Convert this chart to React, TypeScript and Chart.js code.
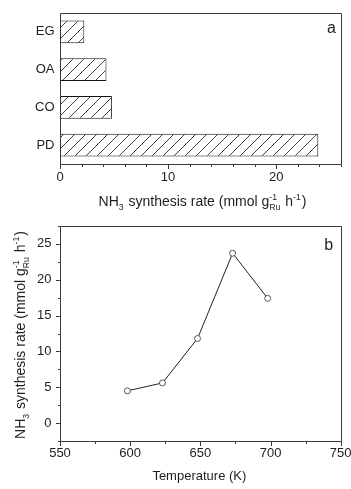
import React, { useEffect, useRef } from 'react';
import { Chart, registerables } from 'chart.js';
Chart.register(...registerables);

// ---- data: panel a ----
const catalysts = ['EG', 'OA', 'CO', 'PD'];
const catalystRates = [2.25, 4.3, 4.8, 23.9];

// ---- data: panel b ----
const temperatures = [598, 623, 648, 673, 698];
const temperatureRates = [4.5, 5.6, 11.8, 23.7, 17.4];

const FONT = '"Liberation Sans", Arial, Helvetica, sans-serif';
const TEXT = '#1e1e1e';
const AXIS = '#3a3a3a';

type Seg = { t?: string; kind?: 'sub' | 'sup' | 'stack'; sup?: string; sub?: string };

const rateTitle: Seg[] = [
  { t: 'NH' },
  { t: '3', kind: 'sub' },
  { t: ' synthesis rate (mmol g' },
  { kind: 'stack', sup: '-1', sub: 'Ru' },
  { t: ' h' },
  { t: '-1', kind: 'sup' },
  { t: ')' },
];
const tempTitle: Seg[] = [{ t: 'Temperature (K)' }];

function drawRich(ctx: CanvasRenderingContext2D, segs: Seg[], cx: number, cy: number, size: number, angle: number) {
  const small = size * 0.62;
  const fBig = `${size}px ${FONT}`;
  const fSmall = `${small}px ${FONT}`;
  const items = segs.map((s) => {
    if (s.kind === 'stack') {
      ctx.font = fSmall;
      return { ...s, w: Math.max(ctx.measureText(s.sup || '').width, ctx.measureText(s.sub || '').width) + 1 };
    }
    ctx.font = s.kind ? fSmall : fBig;
    return { ...s, w: ctx.measureText(s.t || '').width + (s.kind ? 1 : 0) };
  });
  const total = items.reduce((a, b) => a + b.w, 0);
  ctx.save();
  ctx.translate(cx, cy);
  ctx.rotate(angle);
  ctx.fillStyle = TEXT;
  ctx.textAlign = 'left';
  ctx.textBaseline = 'alphabetic';
  const base = size * 0.358;
  let x = -total / 2;
  for (const it of items) {
    if (it.kind === 'stack') {
      ctx.font = fSmall;
      ctx.fillText(it.sup || '', x, base - size * 0.45);
      ctx.fillText(it.sub || '', x, base + size * 0.3);
    } else if (it.kind === 'sub') {
      ctx.font = fSmall;
      ctx.fillText(it.t || '', x, base + size * 0.3);
    } else if (it.kind === 'sup') {
      ctx.font = fSmall;
      ctx.fillText(it.t || '', x, base - size * 0.45);
    } else {
      ctx.font = fBig;
      ctx.fillText(it.t || '', x, base);
    }
    x += it.w;
  }
  ctx.restore();
}

const decorPlugin = {
  id: 'decor',
  afterDraw(chart: any, _args: any, opts: any) {
    const ctx: CanvasRenderingContext2D = chart.ctx;
    const a = chart.chartArea;
    const L = Math.round(a.left) + 0.5;
    const R = Math.round(a.right) + 0.5;
    const T = Math.round(a.top) + 0.5;
    const B = Math.round(a.bottom) + 0.5;
    ctx.save();
    ctx.strokeStyle = AXIS;
    ctx.lineWidth = 1;
    ctx.beginPath();
    ctx.moveTo(L, T);
    ctx.lineTo(R, T);
    ctx.lineTo(R, B);
    ctx.lineTo(L, B);
    ctx.closePath();
    ctx.stroke();
    // tick marks
    for (const spec of opts.ticks || []) {
      const scale = chart.scales[spec.id];
      ctx.beginPath();
      for (const tk of scale.ticks) {
        const v = tk.value;
        const r = v / spec.major;
        const isMajor = Math.abs(r - Math.round(r)) < 1e-6;
        const len = isMajor ? spec.majorLen : spec.minorLen;
        const p = Math.round(scale.getPixelForValue(v)) + 0.5;
        if (spec.id === 'x') {
          ctx.moveTo(p, B);
          ctx.lineTo(p, B + len);
        } else {
          ctx.moveTo(L, p);
          ctx.lineTo(L - len, p);
        }
      }
      ctx.stroke();
    }
    // titles
    for (const t of opts.titles || []) {
      const cx = t.x === undefined ? (a.left + a.right) / 2 + (t.dx || 0) : t.x;
      const cy = t.y === undefined ? (a.top + a.bottom) / 2 + (t.dy || 0) : t.y;
      drawRich(ctx, t.segs, cx, cy, t.size, t.angle || 0);
    }
    // panel letter
    if (opts.letter) {
      ctx.font = `16px ${FONT}`;
      ctx.fillStyle = TEXT;
      ctx.textAlign = 'center';
      ctx.textBaseline = 'alphabetic';
      ctx.fillText(opts.letter.text, a.right - opts.letter.dx, a.top + opts.letter.dy);
    }
    ctx.restore();
  },
};

function makeHatch(): CanvasPattern | string {
  const s = 11;
  const pc = document.createElement('canvas');
  pc.width = s;
  pc.height = s;
  const c = pc.getContext('2d');
  if (!c) return '#fff';
  c.fillStyle = '#fff';
  c.fillRect(0, 0, s, s);
  c.strokeStyle = '#2a2a2a';
  c.lineWidth = 0.9;
  c.beginPath();
  c.moveTo(-1, s + 1);
  c.lineTo(s + 1, -1);
  c.moveTo(-2, 1);
  c.lineTo(1, -2);
  c.moveTo(s - 1, s + 2);
  c.lineTo(s + 2, s - 1);
  c.stroke();
  const pat = c.createPattern(pc, 'repeat');
  return pat || '#fff';
}

export default function App() {
  const topRef = useRef<HTMLCanvasElement>(null);
  const botRef = useRef<HTMLCanvasElement>(null);

  useEffect(() => {
    if (!topRef.current || !botRef.current) return;
    const tickFont = { family: FONT, size: 13 };

    const c1 = new Chart(topRef.current, {
      type: 'bar',
      data: {
        labels: catalysts,
        datasets: [
          {
            data: catalystRates,
            backgroundColor: makeHatch() as any,
            borderColor: '#111',
            borderWidth: 1,
            borderSkipped: false,
            barPercentage: 0.6,
            categoryPercentage: 1,
          },
        ],
      },
      options: {
        indexAxis: 'y',
        responsive: false,
        animation: false,
        layout: { padding: { top: 13, right: 10, left: 0, bottom: 0 } },
        plugins: {
          legend: { display: false },
          tooltip: { enabled: false },
          decor: {
            ticks: [{ id: 'x', major: 10, majorLen: 4.5, minorLen: 2.5 }],
            titles: [{ segs: rateTitle, size: 14, dx: 2, y: 201 }],
            letter: { text: 'a', dx: 9.5, dy: 20 },
          },
        } as any,
        scales: {
          x: {
            type: 'linear',
            min: 0,
            max: 26,
            grid: { display: false, drawTicks: false },
            border: { display: false },
            ticks: {
              stepSize: 2,
              autoSkip: false,
              maxRotation: 0,
              padding: 5.4,
              font: tickFont,
              color: TEXT,
              callback: (v: any) => (Number(v) % 10 === 0 ? String(v) : ''),
            },
            afterFit: (s: any) => {
              s.height = 56;
              s.paddingLeft = 0;
              s.paddingRight = 0;
            },
          },
          y: {
            grid: { display: false, drawTicks: false },
            border: { display: false },
            ticks: { padding: 5.5, font: tickFont, color: TEXT },
            afterFit: (s: any) => {
              s.width = 60;
              s.paddingTop = 0;
              s.paddingBottom = 0;
            },
          },
        },
      },
      plugins: [decorPlugin],
    });

    const c2 = new Chart(botRef.current, {
      type: 'line',
      data: {
        datasets: [
          {
            data: temperatures.map((t, i) => ({ x: t, y: temperatureRates[i] })),
            borderColor: '#222',
            borderWidth: 1,
            pointRadius: 3,
            pointBackgroundColor: '#fff',
            pointBorderColor: '#333',
            pointBorderWidth: 0.8,
            tension: 0,
          },
        ],
      },
      options: {
        responsive: false,
        animation: false,
        layout: { padding: { top: 6, right: 10.3, left: 0, bottom: 0 } },
        plugins: {
          legend: { display: false },
          tooltip: { enabled: false },
          decor: {
            ticks: [
              { id: 'x', major: 50, majorLen: 4.5, minorLen: 2.5 },
              { id: 'y', major: 5, majorLen: 4.5, minorLen: 2.5 },
            ],
            titles: [
              { segs: tempTitle, size: 13, dx: -1, y: 255.5 },
              { segs: rateTitle, size: 14, x: 20, dy: 1.5, angle: -Math.PI / 2 },
            ],
            letter: { text: 'b', dx: 12, dy: 24 },
          },
        } as any,
        scales: {
          x: {
            type: 'linear',
            min: 550,
            max: 750,
            grid: { display: false, drawTicks: false },
            border: { display: false },
            ticks: {
              stepSize: 25,
              autoSkip: false,
              maxRotation: 0,
              padding: 5,
              font: tickFont,
              color: TEXT,
              callback: (v: any) => (Number(v) % 50 === 0 ? String(v) : ''),
            },
            afterFit: (s: any) => {
              s.height = 48;
              s.paddingLeft = 0;
              s.paddingRight = 0;
            },
          },
          y: {
            type: 'linear',
            min: -2.5,
            max: 27.5,
            grid: { display: false, drawTicks: false },
            border: { display: false },
            ticks: {
              stepSize: 2.5,
              autoSkip: false,
              padding: 8.5,
              font: tickFont,
              color: TEXT,
              callback: (v: any) => {
                const n = Number(v);
                return n >= 0 && Math.abs(n % 5) < 1e-9 ? String(n) : '';
              },
            },
            afterFit: (s: any) => {
              s.width = 60;
              s.paddingTop = 0;
              s.paddingBottom = 0;
            },
          },
        },
      },
      plugins: [decorPlugin],
    });

    return () => {
      c1.destroy();
      c2.destroy();
    };
  }, []);

  return (
    <div style={{ position: 'absolute', left: 0, top: 0, width: 351, height: 489, background: '#fff' }}>
      <canvas ref={topRef} width={351} height={220} style={{ position: 'absolute', left: 0, top: 0 }} />
      <canvas ref={botRef} width={351} height={269} style={{ position: 'absolute', left: 0, top: 220 }} />
    </div>
  );
}
